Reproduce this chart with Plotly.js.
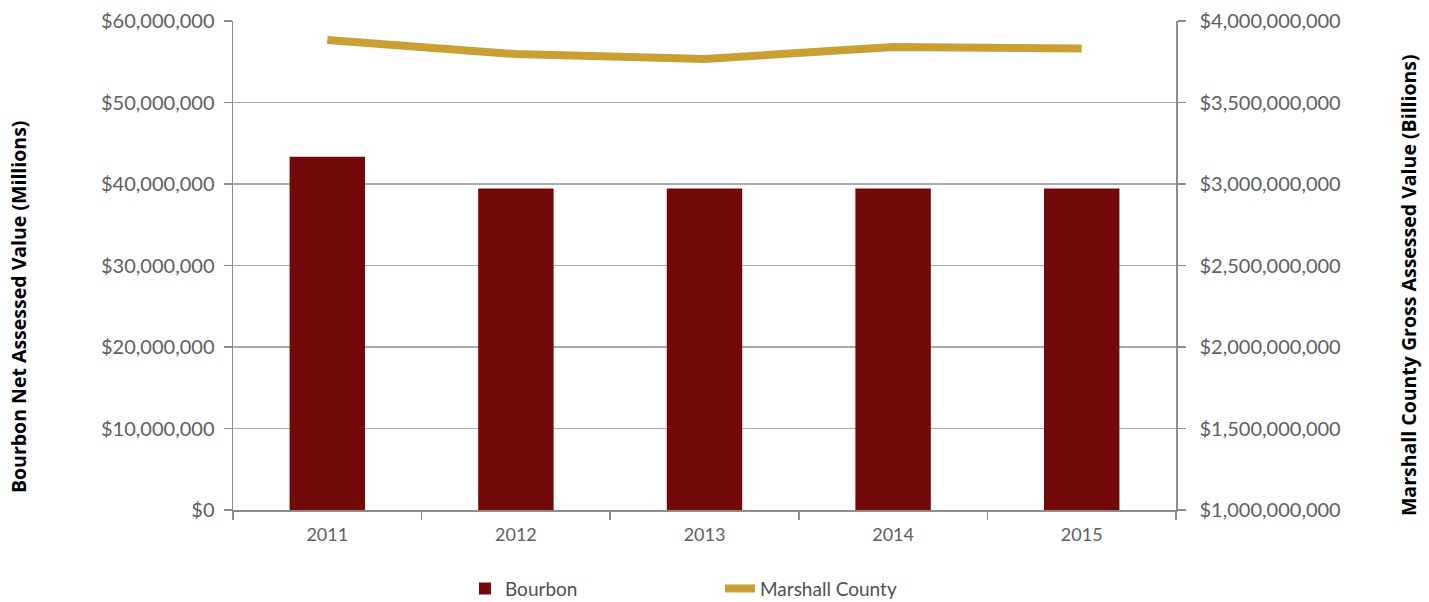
<!DOCTYPE html>
<html>
<head>
<meta charset="utf-8">
<script src="https://cdn.plot.ly/plotly-3.0.1.min.js"></script>
<style>html,body{margin:0;padding:0;background:#fff;}#chart{width:1429px;height:602px;}</style>
</head>
<body>
<div id="chart"></div>
<script>
const years = ["2011", "2012", "2013", "2014", "2015"];
const bourbonValues = [43350000, 39450000, 39450000, 39450000, 39450000];
const marshallValues = [3883000000, 3797000000, 3767000000, 3840000000, 3831000000];
const leftTickVals = [0, 10000000, 20000000, 30000000, 40000000, 50000000, 60000000];
const rightTickVals = [1000000000, 1500000000, 2000000000, 2500000000, 3000000000, 3500000000, 4000000000];
const leftTitle = "Bourbon Net Assessed Value (Millions)";
const rightTitle = "Marshall County Gross Assessed Value (Billions)";

const tickFont = {family: "Lato, 'Open Sans', sans-serif", size: 20, color: "#606060"};
const titleFont = {family: "'Open Sans', 'Noto Sans', sans-serif", size: 19.5, color: "#000"};

const traces = [
  {
    type: "bar", name: "Bourbon", x: years, y: bourbonValues,
    marker: {color: "#730909"}, width: 0.4, yaxis: "y"
  },
  {
    type: "scatter", mode: "lines", name: "Marshall County", x: years, y: marshallValues,
    line: {color: "#C9A035", width: 8}, yaxis: "y2"
  }
];

const layout = {
  width: 1429, height: 602,
  margin: {l: 233, r: 253, t: 21, b: 92, autoexpand: false},
  paper_bgcolor: "#fff", plot_bgcolor: "#fff",
  showlegend: true,
  legend: {
    orientation: "h", x: 0.246, xanchor: "left",
    yref: "container", y: 0.022, yanchor: "middle",
    font: {family: "Lato, 'Open Sans', sans-serif", size: 19, color: "#505050"},
    entrywidth: 210, entrywidthmode: "pixels", traceorder: "normal"
  },
  xaxis: {
    type: "category", tickfont: {family: "Lato, 'Open Sans', sans-serif", size: 18, color: "#606060"},
    showgrid: false, automargin: false,
    showline: true, linecolor: "#8c8c8c", linewidth: 1.5,
    ticks: "outside", ticklen: 8, tickcolor: "#8c8c8c", tickwidth: 1.5,
    tickson: "boundaries", ticklabelstandoff: 8
  },
  yaxis: {
    range: [0, 60000000], tickvals: leftTickVals, tickformat: "$,.0f",
    tickfont: tickFont, showgrid: true, gridcolor: "#a9a9a9", gridwidth: 1.5,
    showline: true, linecolor: "#8c8c8c", linewidth: 1.5, automargin: false,
    ticks: "outside", ticklen: 8, tickcolor: "#8c8c8c", tickwidth: 1.5,
    ticklabelstandoff: 5, zeroline: false
  },
  yaxis2: {
    overlaying: "y", side: "right",
    range: [1000000000, 4000000000], tickvals: rightTickVals, tickformat: "$,.0f",
    tickfont: tickFont, showgrid: false, automargin: false,
    showline: true, linecolor: "#8c8c8c", linewidth: 1.5,
    ticks: "outside", ticklen: 8, tickcolor: "#8c8c8c", tickwidth: 1.5,
    ticklabelstandoff: 10, zeroline: false
  },
  annotations: [
    {text: "<b>" + leftTitle + "</b>", xref: "paper", yref: "paper", x: -0.228, y: 0.417,
     textangle: -90, showarrow: false, font: titleFont, xanchor: "center", yanchor: "middle"},
    {text: "<b>" + rightTitle + "</b>", xref: "paper", yref: "paper", x: 1.246, y: 0.46,
     textangle: -90, showarrow: false, font: titleFont, xanchor: "center", yanchor: "middle"}
  ]
};

Plotly.newPlot("chart", traces, layout, {displayModeBar: false, staticPlot: true});
</script>
</body>
</html>
